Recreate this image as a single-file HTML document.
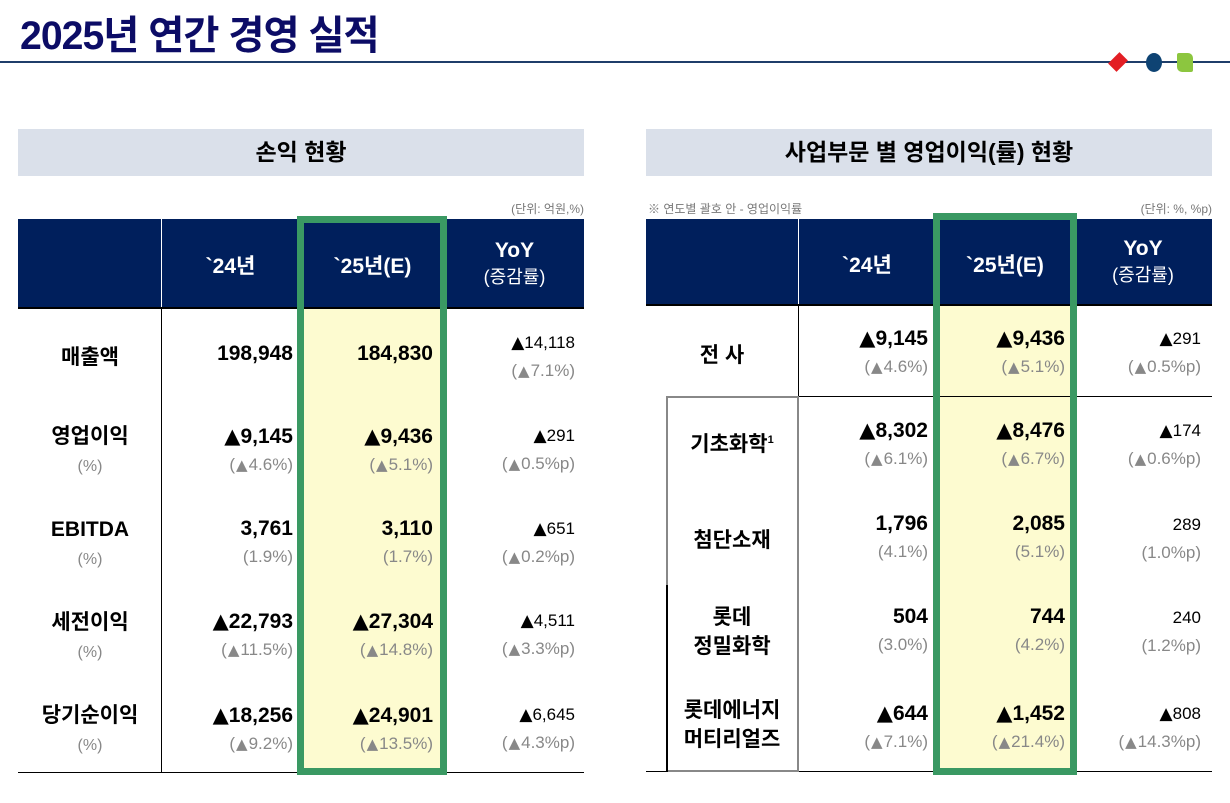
<!DOCTYPE html>
<html><head><meta charset="utf-8">
<style>
*{margin:0;padding:0;box-sizing:border-box}
body{width:1230px;height:803px;background:#fff;position:relative;overflow:hidden;font-family:"Liberation Sans","Noto Sans CJK KR",sans-serif;color:#000}
.a{position:absolute}
.title{left:20px;top:3px;font-size:40px;font-weight:bold;color:#0c0c66;letter-spacing:-1px;transform:scaleX(0.98);transform-origin:left top;white-space:nowrap}
.sec{background:#dae0ea;height:47px;top:129px;font-size:23px;font-weight:bold;text-align:center;line-height:47px}
.hdr{background:#001f5c}
.ht{color:#fff;font-weight:bold;font-size:21px;text-align:center}
.unit{font-size:12px;color:#777}
.lab{font-weight:bold;font-size:21px;text-align:center;width:140px}
.lab .s{font-weight:normal;font-size:16px;color:#888}
.v{text-align:right;font-weight:bold;font-size:21px;width:140px;line-height:26px}
.v .s{font-weight:normal;font-size:17px;color:#888;display:block;line-height:30px}
.y{text-align:right;font-size:17px;width:140px;line-height:26px}
.y .s{font-size:17px;color:#888;display:block;line-height:30px}
.t{font-family:"DejaVu Sans",sans-serif}
.s .t{font-size:15px;margin:0 1px}
</style></head><body>
<div class="a title">2025년 연간 경영 실적</div>
<div class="a" style="left:0;top:61px;width:1230px;height:2px;background:#1f3e6a"></div>
<div class="a" style="left:1111px;top:55px;width:14px;height:14px;background:#e31e24;transform:rotate(45deg) scale(.85,1.15)"></div>
<div class="a" style="left:1146px;top:53px;width:16px;height:19px;border-radius:50%;background:#0e4373"></div>
<div class="a" style="left:1177px;top:53px;width:16px;height:19px;border-radius:2px 5px 2px 5px;background:#8cc63f"></div>

<!-- LEFT -->
<div class="a sec" style="left:18px;width:566px">손익 현황</div>
<div class="a unit" style="left:400px;width:184px;text-align:right;top:200px">(단위: 억원,%)</div>
<div class="a hdr" style="left:18px;top:219px;width:566px;height:89px"></div>
<div class="a" style="left:161px;top:219px;width:1px;height:89px;background:#fff"></div>
<div class="a" style="left:300px;top:308px;width:145px;height:465px;background:#fdfbd0"></div>
<div class="a ht" style="left:161px;top:250px;width:139px">`24년</div>
<div class="a ht" style="left:300px;top:250px;width:145px">`25년(E)</div>
<div class="a ht" style="left:445px;top:238px;width:139px;line-height:26px">YoY<br><span style="font-weight:normal;font-size:18px">(증감률)</span></div>
<div class="a" style="left:18px;top:307px;width:566px;height:2px;background:#000"></div>
<div class="a" style="left:18px;top:772px;width:566px;height:1px;background:#000"></div>
<div class="a" style="left:161px;top:308px;width:1px;height:465px;background:#000"></div>

<div class="a lab" style="left:20px;top:341px">매출액</div>
<div class="a v" style="left:153px;top:341px">198,948</div>
<div class="a v" style="left:293px;top:341px">184,830</div>
<div class="a y" style="left:435px;top:330px"><span class="t">▲</span>14,118<span class="s">(<span class="t">▲</span>7.1%)</span></div>

<div class="a lab" style="left:20px;top:423px;line-height:28px">영업이익<br><span class="s">(%)</span></div>
<div class="a v" style="left:153px;top:423px"><span class="t">▲</span>9,145<span class="s">(<span class="t">▲</span>4.6%)</span></div>
<div class="a v" style="left:293px;top:423px"><span class="t">▲</span>9,436<span class="s">(<span class="t">▲</span>5.1%)</span></div>
<div class="a y" style="left:435px;top:423px"><span class="t">▲</span>291<span class="s">(<span class="t">▲</span>0.5%p)</span></div>

<div class="a lab" style="left:20px;top:516px;line-height:28px">EBITDA<br><span class="s">(%)</span></div>
<div class="a v" style="left:153px;top:516px">3,761<span class="s">(1.9%)</span></div>
<div class="a v" style="left:293px;top:516px">3,110<span class="s">(1.7%)</span></div>
<div class="a y" style="left:435px;top:516px"><span class="t">▲</span>651<span class="s">(<span class="t">▲</span>0.2%p)</span></div>

<div class="a lab" style="left:20px;top:609px;line-height:28px">세전이익<br><span class="s">(%)</span></div>
<div class="a v" style="left:153px;top:608px"><span class="t">▲</span>22,793<span class="s">(<span class="t">▲</span>11.5%)</span></div>
<div class="a v" style="left:293px;top:608px"><span class="t">▲</span>27,304<span class="s">(<span class="t">▲</span>14.8%)</span></div>
<div class="a y" style="left:435px;top:608px"><span class="t">▲</span>4,511<span class="s">(<span class="t">▲</span>3.3%p)</span></div>

<div class="a lab" style="left:20px;top:702px;line-height:28px">당기순이익<br><span class="s">(%)</span></div>
<div class="a v" style="left:153px;top:702px"><span class="t">▲</span>18,256<span class="s">(<span class="t">▲</span>9.2%)</span></div>
<div class="a v" style="left:293px;top:702px"><span class="t">▲</span>24,901<span class="s">(<span class="t">▲</span>13.5%)</span></div>
<div class="a y" style="left:435px;top:702px"><span class="t">▲</span>6,645<span class="s">(<span class="t">▲</span>4.3%p)</span></div>

<div class="a" style="left:297px;top:216px;width:150px;height:559px;border:7px solid #3a9963"></div>

<!-- RIGHT -->
<div class="a sec" style="left:646px;width:566px">사업부문 별 영업이익(률) 현황</div>
<div class="a unit" style="left:648px;top:200px">※ 연도별 괄호 안 - 영업이익률</div>
<div class="a unit" style="left:1000px;width:212px;text-align:right;top:200px">(단위: %, %p)</div>
<div class="a hdr" style="left:646px;top:219px;width:566px;height:86px"></div>
<div class="a" style="left:798px;top:219px;width:1px;height:86px;background:#fff"></div>
<div class="a" style="left:936px;top:305px;width:138px;height:467px;background:#fdfbd0"></div>
<div class="a ht" style="left:798px;top:249px;width:138px">`24년</div>
<div class="a ht" style="left:936px;top:249px;width:138px">`25년(E)</div>
<div class="a ht" style="left:1074px;top:236px;width:138px;line-height:26px">YoY<br><span style="font-weight:normal;font-size:18px">(증감률)</span></div>
<div class="a" style="left:646px;top:304px;width:566px;height:2px;background:#000"></div>
<div class="a" style="left:646px;top:771px;width:566px;height:1px;background:#000"></div>
<div class="a" style="left:798px;top:305px;width:1px;height:91px;background:#000"></div>
<div class="a" style="left:666px;top:396px;width:546px;height:1px;background:#000"></div>
<div class="a" style="left:666px;top:396px;width:133px;height:376px;border:2px solid #888"></div>
<div class="a" style="left:666px;top:585px;width:2px;height:187px;background:#000"></div>

<div class="a lab" style="left:652px;top:339px">전 사</div>
<div class="a v" style="left:788px;top:325px"><span class="t">▲</span>9,145<span class="s">(<span class="t">▲</span>4.6%)</span></div>
<div class="a v" style="left:925px;top:325px"><span class="t">▲</span>9,436<span class="s">(<span class="t">▲</span>5.1%)</span></div>
<div class="a y" style="left:1061px;top:326px"><span class="t">▲</span>291<span class="s">(<span class="t">▲</span>0.5%p)</span></div>

<div class="a lab" style="left:662px;top:428px">기초화학<sup style="font-size:11px">1</sup></div>
<div class="a v" style="left:788px;top:417px"><span class="t">▲</span>8,302<span class="s">(<span class="t">▲</span>6.1%)</span></div>
<div class="a v" style="left:925px;top:417px"><span class="t">▲</span>8,476<span class="s">(<span class="t">▲</span>6.7%)</span></div>
<div class="a y" style="left:1061px;top:418px"><span class="t">▲</span>174<span class="s">(<span class="t">▲</span>0.6%p)</span></div>

<div class="a lab" style="left:662px;top:524px">첨단소재</div>
<div class="a v" style="left:788px;top:511px">1,796<span class="s">(4.1%)</span></div>
<div class="a v" style="left:925px;top:511px">2,085<span class="s">(5.1%)</span></div>
<div class="a y" style="left:1061px;top:512px">289<span class="s">(1.0%p)</span></div>

<div class="a lab" style="left:662px;top:603px;line-height:29px">롯데<br>정밀화학</div>
<div class="a v" style="left:788px;top:604px">504<span class="s">(3.0%)</span></div>
<div class="a v" style="left:925px;top:604px">744<span class="s">(4.2%)</span></div>
<div class="a y" style="left:1061px;top:605px">240<span class="s">(1.2%p)</span></div>

<div class="a lab" style="left:662px;top:696px;line-height:29px">롯데에너지<br>머티리얼즈</div>
<div class="a v" style="left:788px;top:700px"><span class="t">▲</span>644<span class="s">(<span class="t">▲</span>7.1%)</span></div>
<div class="a v" style="left:925px;top:700px"><span class="t">▲</span>1,452<span class="s">(<span class="t">▲</span>21.4%)</span></div>
<div class="a y" style="left:1061px;top:701px"><span class="t">▲</span>808<span class="s">(<span class="t">▲</span>14.3%p)</span></div>

<div class="a" style="left:933px;top:213px;width:144px;height:562px;border:7px solid #3a9963"></div>
</body></html>
